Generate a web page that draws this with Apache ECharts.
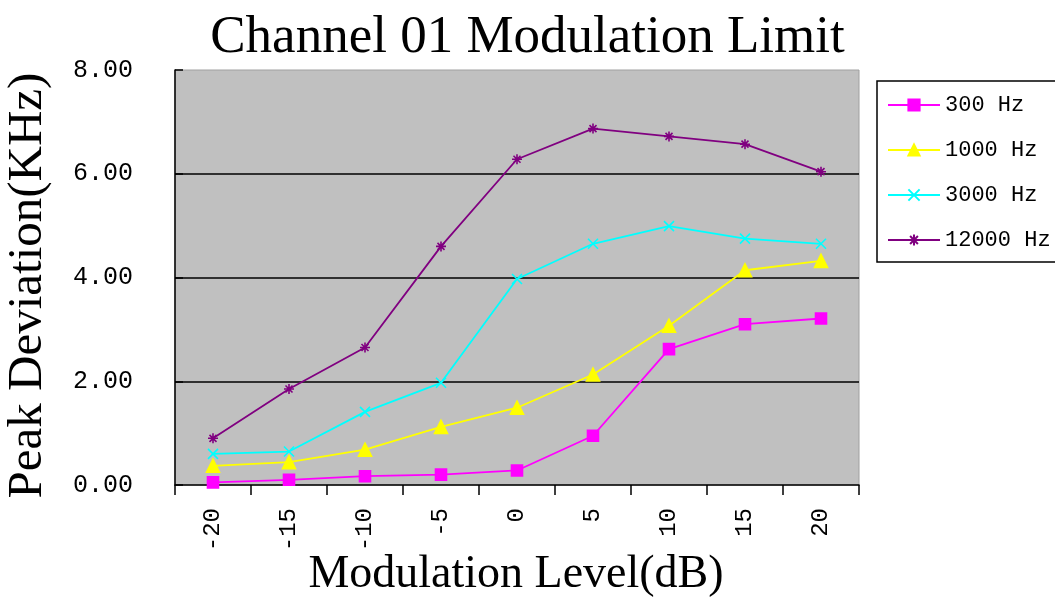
<!DOCTYPE html>
<html>
<head>
<meta charset="utf-8">
<script src="https://cdn.jsdelivr.net/npm/echarts@6/dist/echarts.min.js"></script>
<style>html,body{margin:0;padding:0;background:#fff;}#c{width:1055px;height:597px;}</style>
</head>
<body>
<div id="c"></div>
<script>
var categories = ['-20', '-15', '-10', '-5', '0', '5', '10', '15', '20'];
var s300 = [0.05, 0.10, 0.17, 0.20, 0.28, 0.95, 2.62, 3.10, 3.21];
var s1000 = [0.37, 0.44, 0.68, 1.12, 1.49, 2.13, 3.07, 4.14, 4.32];
var s3000 = [0.60, 0.645, 1.41, 1.97, 3.97, 4.65, 4.99, 4.75, 4.65];
var s12000 = [0.90, 1.85, 2.65, 4.60, 6.28, 6.87, 6.72, 6.57, 6.04];
var seriesNames = ['300 Hz', '1000 Hz', '3000 Hz', '12000 Hz'];
var yTicks = [0, 2, 4, 6, 8];
var xTitle = 'Modulation Level(dB)';

var MONO = 'Liberation Mono';
var SERIF = 'Liberation Serif';
var crossPath = 'path://M0,0L10,10M10,0L0,10';
var starPath = 'path://M5,0L5,10M0,5L10,5M1.5,1.5L8.5,8.5M8.5,1.5L1.5,8.5';

function mk(name, data, color, symbol, size) {
  return {
    name: name, type: 'line', data: data,
    symbol: symbol, symbolSize: size,
    lineStyle: {color: color, width: 1.8},
    itemStyle: {color: color, borderColor: color, borderWidth: 1.6},
    emphasis: {disabled: true},
    animation: false
  };
}

var chart = echarts.init(document.getElementById('c'));
chart.setOption({
  backgroundColor: '#ffffff',
  animation: false,
  title: {
    text: 'Channel 01 Modulation Limit',
    left: 'center', top: 7,
    textStyle: {fontFamily: SERIF, fontSize: 53, fontWeight: 'normal', color: '#000'}
  },
  graphic: [{
    type: 'text', x: 516, y: 575, silent: true,
    style: {text: xTitle, fontFamily: SERIF, fontSize: 46, fill: '#000',
      textAlign: 'center', textVerticalAlign: 'middle'}
  }],
  legend: {
    orient: 'vertical',
    left: 877, top: 81,
    padding: [13, 10, 11, 10],
    itemWidth: 52, itemHeight: 14, itemGap: 23,
    borderColor: '#000', borderWidth: 1.5,
    backgroundColor: '#fff',
    textStyle: {fontFamily: MONO, fontSize: 22, color: '#000'},
    data: seriesNames
  },
  grid: {
    left: 175, right: 196, top: 70, bottom: 112,
    containLabel: false, outerBoundsMode: 'none',
    show: true, backgroundColor: '#c0c0c0', borderColor: '#a0a0a0', borderWidth: 1
  },
  xAxis: {
    type: 'category', data: categories, boundaryGap: true,
    axisLine: {lineStyle: {color: '#000', width: 1.5}},
    axisTick: {show: true, inside: false, length: 10, lineStyle: {color: '#000', width: 1.5}},
    axisLabel: {rotate: 90, margin: 23, fontFamily: MONO, fontSize: 24, color: '#000'},
    splitLine: {show: false}
  },
  yAxis: {
    type: 'value', min: yTicks[0], max: yTicks[yTicks.length - 1], interval: 2,
    name: 'Peak Deviation(KHz)', nameLocation: 'middle', nameGap: 122,
    nameTextStyle: {fontFamily: SERIF, fontSize: 49, color: '#000', padding: [0, 16, 0, 0]},
    axisLine: {show: true, lineStyle: {color: '#000', width: 1.5}},
    axisTick: {show: true, inside: true, length: 8, lineStyle: {color: '#000', width: 1.5}},
    axisLabel: {margin: 42, fontFamily: MONO, fontSize: 25, color: '#000', padding: [6, 0, 0, 0],
      formatter: function (v) { return v.toFixed(2); }},
    splitLine: {show: true, showMinLine: false, showMaxLine: false, lineStyle: {color: '#000', width: 1.5}}
  },
  series: [
    mk(seriesNames[0], s300, '#ff00ff', 'rect', 11),
    mk(seriesNames[1], s1000, '#ffff00', 'triangle', 13),
    mk(seriesNames[2], s3000, '#00ffff', crossPath, 10),
    mk(seriesNames[3], s12000, '#800080', starPath, 10)
  ]
});
</script>
</body>
</html>
